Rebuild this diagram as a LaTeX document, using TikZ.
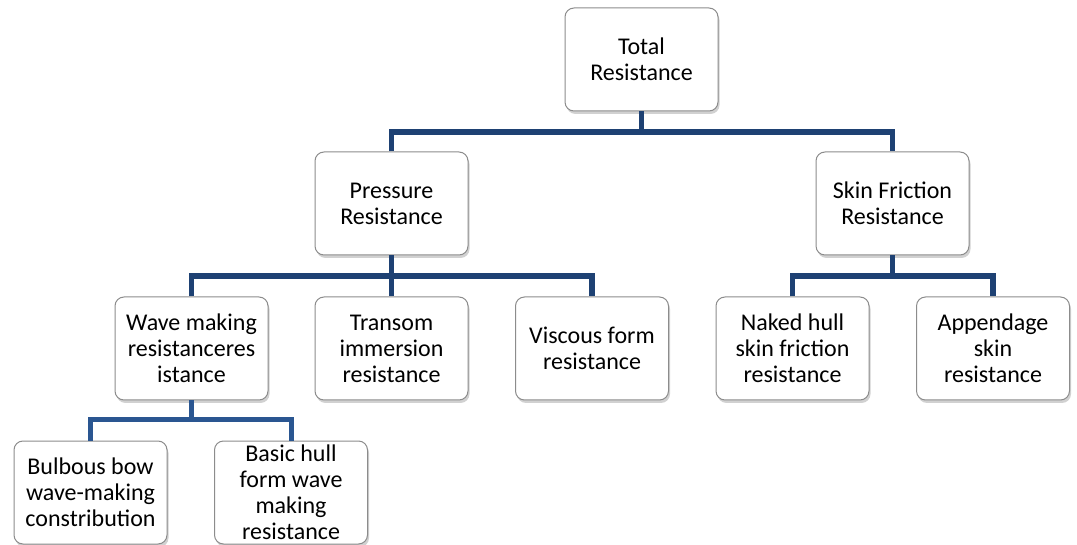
\documentclass[tikz,border=0pt]{standalone}
\usepackage{fontspec}
\setmainfont{Carlito}
\usetikzlibrary{shadows}
\definecolor{linenavy}{RGB}{30,65,115}
\definecolor{lineblue}{RGB}{42,86,145}
\definecolor{boxedge}{RGB}{140,140,140}
\tikzset{
  box/.style={draw=boxedge, line width=1pt, fill=white, rounded corners=9pt,
    minimum width=153pt, minimum height=103pt, align=center, inner sep=1pt,
    font=\fontsize{24}{26}\selectfont,
    drop shadow={shadow xshift=1.5pt, shadow yshift=-3pt, opacity=0.3, fill=black!60}},
  conn/.style={draw=linenavy, line width=5.5pt},
  connlow/.style={draw=lineblue, line width=5pt}
}
\begin{document}
\begin{tikzpicture}[x=1pt,y=1pt]
\useasboundingbox (0,0) rectangle (1077,-545);
\coordinate (busA) at (641.5,-132);
\coordinate (busB) at (391.5,-276);
\coordinate (busC) at (792.5,-276);
\coordinate (busD) at (191.5,-420);
\node[box] (total) at (641.5,-59.5) {Total\\Resistance};
\node[box] (pres) at (391.5,-203.5) {Pressure\\Resistance};
\node[box] (skin) at (892.5,-203.5) {Skin Friction\\Resistance};
\node[box] (wave) at (191.5,-348.5) {Wave making\\resistanceres\\istance};
\node[box] (trans) at (391.5,-348.5) {Transom\\immersion\\resistance};
\node[box] (visc) at (592,-348.5) {Viscous form\\resistance};
\node[box] (naked) at (792.5,-348.5) {Naked hull\\skin friction\\resistance};
\node[box] (app) at (993,-348.5) {Appendage\\skin\\resistance};
\node[box] (bulb) at (90.5,-492.5) {Bulbous bow\\wave-making\\constribution};
\node[box] (basic) at (291,-492.5) {Basic hull\\form wave\\making\\resistance};
\draw[conn] (total.south) -- (busA);
\draw[conn] (pres.north) |- (busA) -| (skin.north);
\draw[conn] (pres.south) -- (trans.north);
\draw[conn] (wave.north) |- (busB) -| (visc.north);
\draw[conn] (skin.south) -- (skin.south |- busC);
\draw[conn] (naked.north) |- (busC) -| (app.north);
\draw[connlow] (wave.south) -- (busD);
\draw[connlow] (bulb.north) |- (busD) -| (basic.north);
\end{tikzpicture}
\end{document}
